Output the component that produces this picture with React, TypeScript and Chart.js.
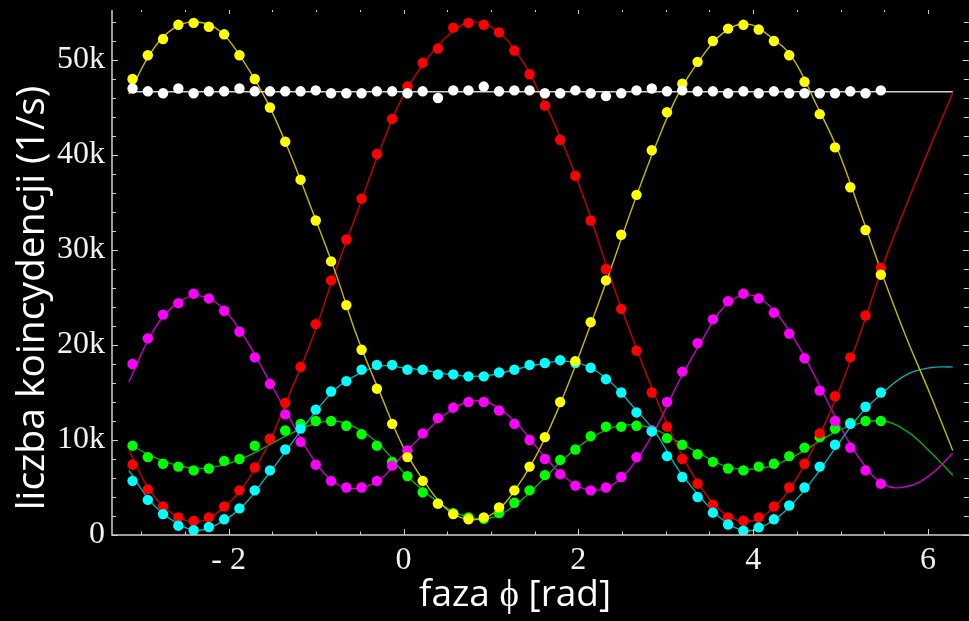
import React, { useEffect, useRef } from 'react';
import { Chart, registerables } from 'chart.js';

Chart.register(...registerables);

// measured phases (rad)
const phase = [
  -3.100, -2.925, -2.751, -2.576, -2.401, -2.227, -2.052, -1.877, -1.702, -1.528,
  -1.353, -1.178, -1.004, -0.829, -0.654, -0.480, -0.305, -0.130, 0.045, 0.219,
  0.394, 0.569, 0.743, 0.918, 1.093, 1.268, 1.442, 1.617, 1.792, 1.966,
  2.141, 2.316, 2.490, 2.665, 2.840, 3.014, 3.189, 3.364, 3.539, 3.713,
  3.888, 4.063, 4.237, 4.412, 4.587, 4.761, 4.936, 5.111, 5.285, 5.460,
];

// measured coincidences (thousands per second)
const whitePts = [
  47.0, 46.7, 46.5, 47.0, 46.5, 46.7, 46.7, 47.0, 46.7, 46.7,
  46.7, 46.7, 46.8, 46.5, 46.5, 46.5, 46.7, 46.7, 46.5, 46.7,
  46.0, 46.8, 46.8, 47.2, 46.7, 46.8, 46.8, 46.5, 46.5, 46.8,
  46.5, 46.2, 46.5, 46.8, 47.0, 46.7, 46.8, 46.7, 46.7, 46.5,
  46.7, 46.5, 46.7, 46.5, 46.5, 46.5, 46.5, 46.7, 46.5, 46.8,
];
const yellowPts = [
  48.0, 50.5, 52.2, 53.7, 53.9, 53.5, 52.7, 50.5, 48.0, 45.0,
  41.4, 37.4, 33.1, 28.8, 24.2, 19.5, 15.4, 11.7, 8.2, 5.7,
  3.3, 2.2, 1.65, 1.85, 2.9, 4.7, 7.2, 10.3, 14.0, 18.3,
  22.4, 26.8, 31.6, 35.8, 40.5, 44.5, 47.5, 49.8, 52.0, 53.3,
  53.7, 53.2, 52.0, 50.5, 47.7, 44.3, 40.8, 36.6, 32.1, 27.4,
];
const redPts = [
  7.4, 4.8, 3.0, 1.86, 1.47, 1.86, 3.0, 4.7, 7.1, 10.1,
  13.9, 17.7, 22.2, 26.8, 31.1, 35.4, 40.1, 43.8, 47.2, 49.7,
  51.2, 53.4, 53.9, 53.7, 52.9, 51.0, 48.5, 45.2, 41.6, 37.8,
  33.1, 28.0, 23.8, 19.4, 15.0, 11.4, 8.0, 5.4, 3.2, 1.86,
  1.5, 1.86, 3.0, 5.0, 7.5, 10.7, 14.6, 18.7, 23.1, 28.1,
];
const magentaPts = [
  18.0, 20.7, 23.2, 24.4, 25.4, 24.9, 23.6, 21.4, 18.7, 15.9,
  12.7, 9.8, 7.4, 5.7, 5.0, 5.0, 5.7, 7.3, 8.9, 10.7,
  12.3, 13.4, 14.0, 14.0, 13.1, 11.7, 10.0, 8.0, 6.4, 5.2,
  4.7, 5.0, 6.1, 8.2, 11.0, 14.0, 17.2, 20.2, 22.7, 24.6,
  25.4, 24.9, 23.4, 21.2, 18.6, 15.2, 12.0, 9.2, 6.8, 5.4,
];
const cyanPts = [
  5.7, 3.7, 2.2, 0.98, 0.5, 0.84, 1.65, 2.8, 4.7, 6.8,
  9.0, 11.2, 13.2, 15.1, 16.2, 17.4, 17.9, 17.9, 17.4, 17.4,
  16.9, 16.9, 16.7, 16.7, 17.1, 17.4, 17.9, 18.1, 18.4, 18.1,
  17.6, 16.4, 15.0, 12.9, 10.9, 8.3, 6.1, 4.0, 2.35, 1.1,
  0.45, 0.8, 1.65, 3.1, 5.0, 7.2, 9.5, 11.7, 13.5, 15.0,
];
const greenPts = [
  9.4, 8.2, 7.5, 7.2, 6.8, 7.0, 7.8, 8.0, 9.4, 10.1,
  11.0, 11.7, 12.0, 12.0, 11.5, 10.6, 9.4, 7.7, 6.2, 4.5,
  3.3, 2.3, 1.86, 1.7, 2.3, 3.4, 4.7, 6.3, 7.9, 9.0,
  10.4, 11.4, 11.4, 11.5, 11.0, 10.2, 9.5, 8.5, 7.7, 7.0,
  6.8, 7.2, 7.5, 8.3, 9.2, 10.3, 11.2, 11.8, 12.0, 12.0,
];

// fitted curves, read at these phases
const fitPhase = [
  -3.142, -2.880, -2.618, -2.356, -2.094, -1.833, -1.571, -1.309, -1.047, -0.785,
  -0.524, -0.262, 0.000, 0.262, 0.524, 0.785, 1.047, 1.309, 1.571, 1.833,
  2.094, 2.356, 2.618, 2.880, 3.142, 3.403, 3.665, 3.927, 4.189, 4.451,
  4.712, 4.974, 5.236, 5.498, 5.760, 6.021, 6.283,
];
const yellowFit = [
  46.4, 50.9, 53.4, 54.0, 53.0, 49.9, 45.8, 40.4, 34.2, 27.8,
  20.7, 14.8, 9.2, 5.3, 2.5, 1.6, 2.4, 5.2, 9.3, 14.7,
  21.0, 27.6, 34.5, 40.9, 46.4, 50.2, 52.9, 53.8, 52.5, 50.2,
  45.5, 40.4, 33.7, 26.9, 20.6, 14.9, 8.9,
];
const redFit = [
  8.9, 4.4, 2.1, 1.4, 2.6, 5.1, 9.1, 14.7, 20.6, 27.6,
  34.1, 40.7, 46.3, 50.0, 52.7, 54.0, 53.2, 50.6, 46.3, 41.0,
  34.7, 27.4, 20.8, 14.6, 9.2, 5.0, 2.3, 1.4, 2.5, 5.3,
  9.6, 15.0, 21.5, 28.7, 34.9, 40.8, 46.5,
];
const magentaFit = [
  16.1, 21.2, 24.2, 25.2, 24.1, 21.0, 16.8, 12.4, 8.2, 5.5,
  4.9, 5.9, 8.5, 10.9, 13.0, 14.1, 13.6, 11.6, 8.7, 6.2,
  4.8, 5.1, 7.3, 11.1, 16.0, 20.3, 24.0, 25.3, 24.1, 20.9,
  16.6, 11.8, 7.8, 5.3, 5.1, 6.3, 8.6,
];
const cyanFit = [
  6.8, 3.4, 1.4, 0.5, 1.3, 3.1, 6.1, 9.3, 12.5, 15.3,
  16.9, 17.8, 17.6, 17.3, 16.9, 16.7, 16.9, 17.5, 18.0, 18.3,
  17.8, 16.2, 13.6, 10.8, 6.9, 3.9, 1.5, 0.45, 1.3, 3.3,
  6.2, 9.6, 12.8, 15.1, 16.9, 17.6, 17.7,
];
const greenFit = [
  9.6, 8.3, 7.4, 7.0, 7.3, 8.1, 9.3, 10.6, 11.6, 12.0,
  11.2, 9.4, 6.6, 4.4, 2.7, 1.8, 1.9, 3.4, 5.6, 8.0,
  9.9, 11.2, 11.6, 11.1, 9.8, 8.5, 7.3, 6.9, 7.2, 8.2,
  9.6, 11.0, 11.8, 12.0, 10.9, 8.8, 6.3,
];
const whiteFitPhase = [-3.142, 6.283];
const whiteFit = [46.66, 46.66];

const xTickValues = [-2, 0, 2, 4, 6];
const xMinorTicks = [-3, -2.5, -1.5, -1, -0.5, 0.5, 1, 1.5, 2.5, 3, 3.5, 4.5, 5, 5.5];
const yTickValues = [0, 10, 20, 30, 40, 50];
const yMinorTicks = [2, 4, 6, 8, 12, 14, 16, 18, 22, 24, 26, 28, 32, 34, 36, 38, 42, 44, 46, 48, 52, 54];

const xTitle = 'faza ϕ [rad]';
const yTitle = 'liczba koincydencji (1/s)';

const series = [
  { name: 'white', pts: whitePts, fitX: whiteFitPhase, fit: whiteFit, point: '#ffffff', line: '#d0d0d0', order: 1 },
  { name: 'yellow', pts: yellowPts, fitX: fitPhase, fit: yellowFit, point: '#ffff00', line: '#c4bc00', order: 2 },
  { name: 'cyan', pts: cyanPts, fitX: fitPhase, fit: cyanFit, point: '#00ffff', line: '#00b0b0', order: 3 },
  { name: 'red', pts: redPts, fitX: fitPhase, fit: redFit, point: '#ff0000', line: '#c80000', order: 4 },
  { name: 'magenta', pts: magentaPts, fitX: fitPhase, fit: magentaFit, point: '#ff00ff', line: '#c800c8', order: 5 },
  { name: 'green', pts: greenPts, fitX: fitPhase, fit: greenFit, point: '#00ff00', line: '#00b000', order: 6 },
];

const bgPlugin = {
  id: 'bg',
  beforeDraw(chart: any) {
    const { ctx, width, height } = chart;
    ctx.save();
    ctx.fillStyle = '#000000';
    ctx.fillRect(0, 0, width, height);
    ctx.restore();
  },
};

const framePlugin = {
  id: 'frame',
  afterDraw(chart: any) {
    const { ctx, chartArea: a, scales } = chart;
    const x = scales.x;
    const y = scales.y;
    ctx.save();
    ctx.strokeStyle = '#d0d0d0';
    ctx.lineWidth = 1.5;
    ctx.beginPath();
    ctx.moveTo(a.left, a.top);
    ctx.lineTo(a.left, a.bottom);
    ctx.lineTo(a.right, a.bottom);
    ctx.stroke();
    ctx.lineWidth = 1;
    const seg = (x1: number, y1: number, x2: number, y2: number) => {
      ctx.beginPath();
      ctx.moveTo(x1, y1);
      ctx.lineTo(x2, y2);
      ctx.stroke();
    };
    const r = a.right - 1;
    xTickValues.forEach((v) => {
      const p = Math.round(x.getPixelForValue(v)) + 0.5;
      seg(p, a.bottom, p, a.bottom - 6);
      seg(p, a.top, p, a.top + 4);
    });
    xMinorTicks.forEach((v) => {
      const p = Math.round(x.getPixelForValue(v)) + 0.5;
      seg(p, a.bottom, p, a.bottom - 3.5);
      seg(p, a.top, p, a.top + 2);
    });
    yTickValues.forEach((v) => {
      const p = Math.round(y.getPixelForValue(v)) + 0.5;
      seg(a.left, p, a.left + 6, p);
      seg(r, p, r - 6, p);
    });
    yMinorTicks.forEach((v) => {
      const p = Math.round(y.getPixelForValue(v)) + 0.5;
      seg(a.left, p, a.left + 4, p);
      seg(r, p, r - 5, p);
    });

    ctx.fillStyle = '#ffffff';
    ctx.font = '37px "Open Sans"';
    ctx.textAlign = 'center';
    ctx.textBaseline = 'alphabetic';
    ctx.fillText(xTitle, 515, 606);

    ctx.translate(33, 298);
    ctx.rotate(-Math.PI / 2);
    ctx.font = '39px "Open Sans"';
    ctx.textBaseline = 'middle';
    ctx.fillText(yTitle, 0, 0);
    ctx.restore();
  },
};

export default function App() {
  const ref = useRef<HTMLCanvasElement | null>(null);

  useEffect(() => {
    if (!ref.current) return;
    const datasets: any[] = [];
    series.forEach((s) => {
      datasets.push({
        type: 'line',
        label: s.name + ' fit',
        data: s.fitX.map((xv, i) => ({ x: xv, y: s.fit[i] })),
        borderColor: s.line,
        borderWidth: 1.4,
        pointRadius: 0,
        tension: 0.4,
        fill: false,
        order: 20 + s.order,
      });
      datasets.push({
        type: 'line',
        label: s.name,
        data: phase.map((xv, i) => ({ x: xv, y: s.pts[i] })),
        showLine: false,
        pointRadius: 5.2,
        pointBorderWidth: 0,
        pointBackgroundColor: s.point,
        pointBorderColor: s.point,
        order: s.order,
      });
    });

    const chart = new Chart(ref.current, {
      type: 'line',
      data: { datasets },
      options: {
        responsive: false,
        devicePixelRatio: 1,
        animation: false,
        events: [],
        layout: { padding: { top: 10, right: 0, left: 0, bottom: 0 } },
        plugins: { legend: { display: false }, tooltip: { enabled: false } },
        scales: {
          x: {
            type: 'linear',
            min: -3.335,
            max: 6.478,
            grid: { display: false, drawTicks: false },
            border: { display: false },
            afterFit: (s: any) => {
              s.height = 86;
              s.paddingLeft = 0;
              s.paddingRight = 0;
              s.paddingTop = 0;
              s.paddingBottom = 0;
            },
            afterBuildTicks: (s: any) => { s.ticks = xTickValues.map((v) => ({ value: v })); },
            ticks: {
              autoSkip: false,
              maxRotation: 0,
              padding: 6,
              color: '#f2f2f2',
              font: { family: '"Liberation Serif"', size: 32 },
              callback: (v: any) => (v < 0 ? '- ' + Math.abs(v) : String(v)),
            },
          },
          y: {
            type: 'linear',
            min: 0,
            max: 55.26,
            grid: { display: false, drawTicks: false },
            border: { display: false },
            afterFit: (s: any) => {
              s.width = 112;
              s.paddingLeft = 0;
              s.paddingRight = 0;
              s.paddingTop = 0;
              s.paddingBottom = 0;
            },
            afterBuildTicks: (s: any) => { s.ticks = yTickValues.map((v) => ({ value: v })); },
            ticks: {
              autoSkip: false,
              padding: 7,
              color: '#f2f2f2',
              font: { family: '"Liberation Serif"', size: 32 },
              callback: (v: any) => (v === 0 ? '0' : v + 'k'),
            },
          },
        },
      },
      plugins: [bgPlugin, framePlugin],
    } as any);
    return () => chart.destroy();
  }, []);

  return (
    <div style={{ position: 'fixed', left: 0, top: 0, width: 969, height: 621, overflow: 'hidden', background: '#000' }}>
      <canvas ref={ref} width={975} height={621} style={{ display: 'block', width: 975, height: 621 }} />
    </div>
  );
}
